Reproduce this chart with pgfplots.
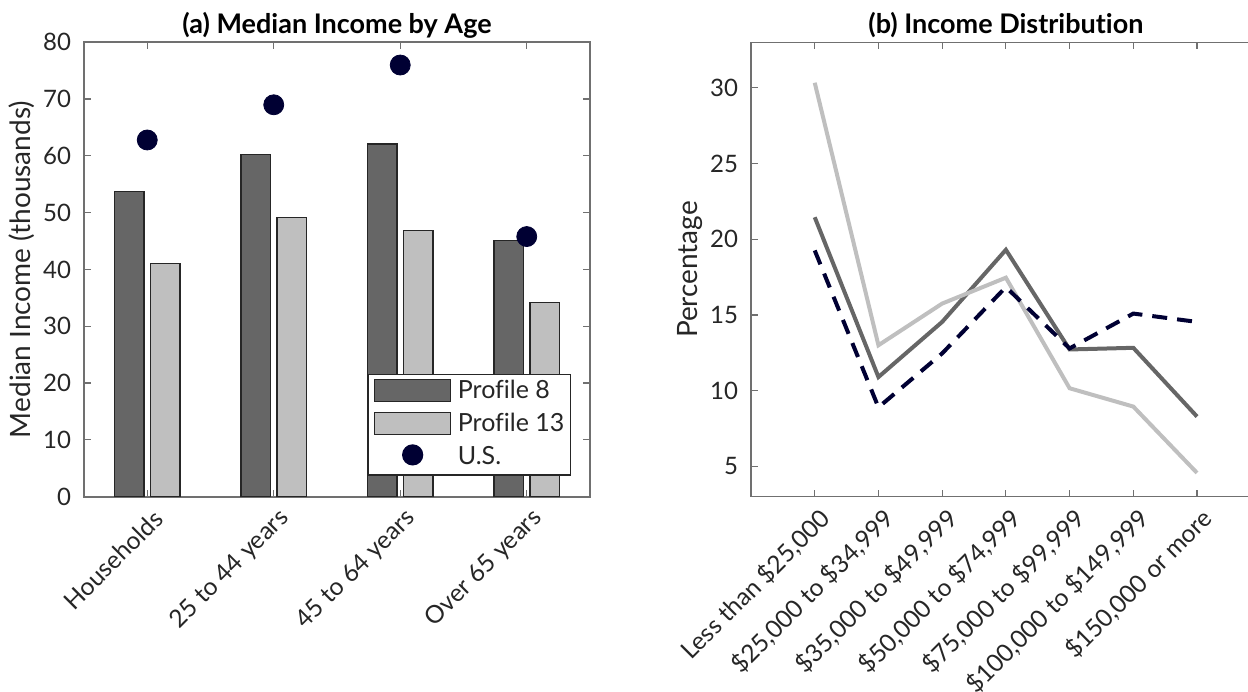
\documentclass[border=0pt]{standalone}
\usepackage{fontspec}
\setmainfont{Lato}[Ligatures=NoCommon]
\usepackage{pgfplots}
\pgfplotsset{compat=1.18}
\definecolor{dk}{HTML}{666666}
\definecolor{lt}{HTML}{BFBFBF}
\definecolor{nv}{HTML}{000033}
\definecolor{ax}{HTML}{707070}
\definecolor{tx}{HTML}{262626}
\begin{document}
\begin{tikzpicture}
\path[use as bounding box] (0,0) rectangle (624bp,346bp);
\pgfplotsset{
 common/.style={
  scale only axis,
  anchor=south west,
  height=227.2bp,
  axis line style={ax, line width=0.8bp},
  tick style={ax, line width=0.6bp},
  tick align=inside,
  major tick length=3.5bp,
  ticklabel style={font=\fontsize{12bp}{14bp}\selectfont, text=tx},
  yticklabel style={xshift=-3bp},
  /pgf/number format/assume math mode=true,
  label style={font=\fontsize{14bp}{16bp}\selectfont, text=tx},
  title style={font=\fontsize{13.5bp}{15bp}\selectfont\bfseries, anchor=base, yshift=-1.8bp},
  xticklabel style={xshift=8bp, yshift=-6.5bp, rotate=45, anchor=east, font=\fontsize{12.3bp}{14bp}\selectfont},
 }
}
\begin{axis}[common,
 at={(42bp,97.65bp)}, width=253bp,
 xmin=0.5, xmax=4.5, ymin=0, ymax=80,
 xtick={1,2,3,4},
 xticklabels={Households,25 to 44 years,45 to 64 years,Over 65 years},
 ytick={0,10,...,80},
 title={(a) Median Income by Age},
 title style={at={(0.5,1)}},
 ylabel={Median Income (thousands)},
 ylabel style={at={(axis description cs:-0.1235,0.5)}, anchor=center},
 legend style={at={(1,0)}, anchor=south east, xshift=-9.5bp, yshift=10.5bp,
   draw=black!85, line width=0.6bp, font=\fontsize{12.5bp}{14bp}\selectfont, text=tx,
   inner xsep=3bp, inner ysep=2.1bp, row sep=3.5bp,
   nodes={inner sep=0bp, text height=9bp, text depth=3bp},
   /tikz/every odd column/.append style={column sep=3.3bp}},
 legend cell align=left,
]
\addplot[ybar, bar width=14.8bp, bar shift=-9bp, fill=dk, draw=black!85, line width=0.6bp,
  legend image code/.code={\draw[fill=dk, draw=black!85, line width=0.6bp] (0bp,-4.5bp) rectangle (38bp,6.5bp);}]
  coordinates {(1,53.8) (2,60.2) (3,62.1) (4,45.1)};
\addlegendentry{Profile 8}
\addplot[ybar, bar width=14.8bp, bar shift=9bp, fill=lt, draw=black!85, line width=0.6bp,
  legend image code/.code={\draw[fill=lt, draw=black!85, line width=0.6bp] (0bp,-4.5bp) rectangle (38bp,6.5bp);}]
  coordinates {(1,41.0) (2,49.2) (3,46.9) (4,34.2)};
\addlegendentry{Profile 13}
\addplot[only marks, mark=*, mark size=5bp, color=nv,
  legend image code/.code={\fill[nv] (19bp,2bp) circle (5bp);}]
  coordinates {(1,62.8) (2,69.0) (3,76.0) (4,45.8)};
\addlegendentry{U.S.}
\end{axis}
\begin{axis}[common,
 at={(375.5bp,97.65bp)}, width=254.87bp,
 xmin=0, xmax=8, ymin=3, ymax=33,
 xtick={1,...,7},
 xticklabels={Less than \$25{,}000,\$25{,}000 to \$34{,}999,\$35{,}000 to \$49{,}999,\$50{,}000 to \$74{,}999,\$75{,}000 to \$99{,}999,\$100{,}000 to \$149{,}999,\$150{,}000 or more},
 ytick={5,10,...,30},
 title={(b) Income Distribution},
 title style={at={(0.5,1)}},
 ylabel={Percentage},
 ylabel style={at={(axis description cs:-0.12,0.5)}, anchor=center},
]
\addplot[dk, line width=2bp] coordinates {(1,21.45) (2,10.9) (3,14.54) (4,19.3) (5,12.72) (6,12.83) (7,8.29)};
\addplot[lt, line width=2bp] coordinates {(1,30.33) (2,13.0) (3,15.75) (4,17.46) (5,10.16) (6,8.95) (7,4.57)};
\addplot[nv, line width=2bp, dash pattern=on 7.5bp off 5bp] coordinates {(1,19.26) (2,8.9) (3,12.46) (4,16.84) (5,12.79) (6,15.09) (7,14.54)};
\end{axis}
\end{tikzpicture}
\end{document}
